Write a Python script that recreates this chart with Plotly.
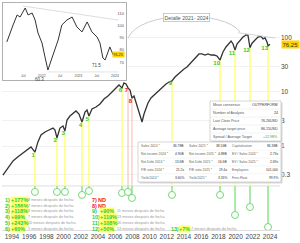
import numpy as np
import plotly.graph_objects as go

# ---------------- data ----------------
dates = [1992.95, 1993.53, 1994.12, 1994.70, 1995.28, 1995.86, 1996.21, 1996.67, 1997.02, 1997.37,
         1997.84, 1998.30, 1998.77, 1999.00, 1999.23, 1999.58, 1999.93, 2000.16, 2000.40, 2000.74,
         2001.09, 2001.44, 2001.79, 2002.14, 2002.49, 2002.72, 2002.95, 2003.30, 2003.77, 2004.23,
         2004.70, 2005.16, 2005.63, 2006.09, 2006.44, 2006.79, 2007.02, 2007.26, 2007.49, 2007.72,
         2007.95, 2008.19, 2008.42, 2008.65, 2008.88, 2009.12, 2009.35, 2009.58, 2009.81, 2010.16,
         2010.51, 2010.86, 2011.21, 2011.56, 2011.91, 2012.26, 2012.60, 2012.95, 2013.30, 2013.65,
         2014.00, 2014.35, 2014.70, 2015.05, 2015.40, 2015.74, 2016.09, 2016.44, 2016.79, 2017.14,
         2017.49, 2017.84, 2018.19, 2018.53, 2018.88, 2019.23, 2019.47, 2019.70, 2019.93, 2020.16,
         2020.51, 2020.86, 2021.21, 2021.44, 2021.67, 2021.91, 2022.26, 2022.60, 2022.95, 2023.19,
         2023.42, 2023.65, 2023.77, 2024.00]
prices = [0.29, 0.39, 0.53, 0.63, 0.74, 0.84, 0.96, 0.77, 1.19, 1.60,
          1.82, 1.98, 2.15, 1.98, 1.41, 2.15, 2.35, 1.90, 3.03, 3.59,
          4.08, 4.45, 3.91, 2.78, 4.26, 4.64, 3.59, 4.84, 5.27, 5.99,
          7.42, 8.43, 10.0, 11.9, 13.5, 11.9, 14.7, 14.1, 11.9, 10.9,
          7.74, 8.43, 6.53, 4.64, 3.59, 2.78, 3.91, 5.05, 6.25, 7.74,
          8.80, 10.0, 10.9, 12.4, 14.1, 15.3, 16.0, 18.9, 21.5, 24.5,
          26.7, 29.0, 33.0, 39.1, 44.5, 50.6, 50.6, 48.4, 50.6, 48.4,
          48.4, 46.4, 39.1, 55.1, 68.1, 80.8, 88.0, 77.4, 59.9, 77.4,
          91.8, 104.0, 114.0, 112.0, 66.0, 80.0, 92.0, 104.0, 107.0, 96.0,
          100.0, 84.3, 71.5, 76.25]
last_price = 76.25

sig_labels = ["1", "2", "3", "4", "5", "6", "7", "8", "9", "10", "11", "12", "13"]
sig_dates = [1996.67, 1999.23, 2000.16, 2002.14, 2002.95, 2006.79, 2007.49, 2007.95,
             2012.60, 2018.19, 2019.93, 2021.67, 2023.77]
sig_prices = [0.77, 1.41, 1.90, 2.78, 3.59, 11.9, 11.9, 7.74, 16.0, 39.1, 59.9, 66.0, 71.5]
sig_ok = [True, True, True, True, True, True, False, False, True, True, True, True, True]
circle_levels = [0.141, 0.141, 0.141, 0.124, 0.147, 0.135, 0.141, 0.109, 0.124, 0.124,
                 0.0527, 0.0742, 0.0316]
gains = ["+177%", "+186%", "+118%", "+99%", "+243%", "+60%", "ND", "ND",
         "+90%", "+119%", "+108%", "+50%", "+7%"]
months = ["8", "7", "8", "7", "20", "5", "", "", "11", "13", "16", "13", "7"]
sep_level = 0.182

year_ticks = list(range(1994, 2025, 2))
price_ticks = [0.3, 1, 3, 10, 30, 100]
price_tick_text = ["0.3", "1", "3", "10", "30", "100"]

trend_dates = [2020.3, 2024.6]
trend_prices = [125.0, 100.0]

inset_dates = [2021.05, 2021.14, 2021.22, 2021.33, 2021.41, 2021.55, 2021.63, 2021.74, 2021.82, 2021.90,
               2022.01, 2022.09, 2022.17, 2022.28, 2022.36, 2022.45, 2022.55, 2022.69, 2022.83, 2022.96,
               2023.10, 2023.24, 2023.37, 2023.51, 2023.59, 2023.67, 2023.73, 2023.81, 2023.86, 2023.95,
               2024.00]
inset_prices = [86.6, 94.8, 100.5, 108.7, 107.0, 114.4, 108.7, 110.3, 104.6, 93.9,
                85.7, 74.3, 63.6, 73.4, 80.0, 88.2, 100.5, 104.6, 107.0, 98.9,
                94.8, 103.0, 94.8, 90.7, 85.7, 73.4, 71.8, 78.4, 82.5, 75.9,
                76.25]
inset_ticks = [70, 80, 90, 100, 110]
inset_xticks = [2021.0, 2021.5, 2022.0, 2022.5, 2023.0, 2023.5, 2024.0]
inset_xtext = ["2021", "Jul", "2022", "Jul", "2023", "Jul", "2024"]
inset_low_dates = [2022.17, 2023.73]
inset_low_values = [60.3, 71.5]
inset_res_dates = [2021.49, 2024.10]
inset_res_prices = [116.0, 104.5]
inset_sup_dates = [2022.15, 2024.10]
inset_sup_prices = [62.0, 62.0]

cons_labels = ["Mean consensus", "Number of Analysts", "Last Close Price",
               "Average target price", "Spread / Average Target"]
cons_values = ["OUTPERFORM", "24", "76.26USD", "86.15USD", "+12.98%"]
fin_l1 = ["Sales 2024 *", "Net income 2024 *", "Net Debt 2024 *", "P/E ratio 2024 *", "Yield 2024 *"]
fin_v1 = ["36.78B", "4.90B", "13.6B", "21.2x", "3.60%"]
fin_l2 = ["Sales 2025 *", "Net income 2025 *", "Net Debt 2025 *", "P/E ratio 2025 *", "Yield 2025 *"]
fin_v2 = ["38.56B", "4.88B", "16.6B", "19.4x", "3.33%"]
fin_l3 = ["Capitalization", "EV / Sales 2024 *", "EV / Sales 2025 *", "Employees", "Free-Float"]
fin_v3 = ["86.38B", "2.73x", "2.69x", "101,000", "99.9%"]

# ---------------- layout helpers ----------------
W, H = 300, 243
ML, MR, MT, MB = 2, 20, 3, 13
PW, PH = W - ML - MR, H - MT - MB
FONT = "Liberation Sans, Arial, sans-serif"
GREEN = "#2ecc2e"
RED = "#ee2222"


def px(x):
    return (x - ML) / PW


def py(y):
    return (H - MB - y) / PH


x_range = [1992.84, 2025.16]
y_range = [-1.5556, 2.648]

fig = go.Figure()

# separator line
fig.add_trace(go.Scatter(x=x_range, y=[sep_level, sep_level], mode="lines",
                         line=dict(color="#d6d6d6", width=0.8), hoverinfo="skip"))

# stems
yx, yy, rx, ry, gx, gy = [], [], [], [], [], []
for d, p, ok, c in zip(sig_dates, sig_prices, sig_ok, circle_levels):
    if ok:
        yx += [d, d, None]
        yy += [p, sep_level, None]
    else:
        rx += [d, d, None]
        ry += [p, sep_level, None]
    gx += [d, d, None]
    gy += [sep_level, c, None]
fig.add_trace(go.Scatter(x=yx, y=yy, mode="lines", line=dict(color="#ffff78", width=1.5)))
fig.add_trace(go.Scatter(x=rx, y=ry, mode="lines", line=dict(color="#f6c6c0", width=1.2)))
fig.add_trace(go.Scatter(x=gx, y=gy, mode="lines", line=dict(color="#8ee48e", width=1.5)))
fig.add_trace(go.Scatter(x=sig_dates, y=circle_levels, mode="markers", cliponaxis=False,
                         marker=dict(symbol="circle", size=7, color="white",
                                     line=dict(color="#74d874", width=1))))

# main price
fig.add_trace(go.Scatter(x=dates, y=prices, mode="lines",
                         line=dict(color="#333333", width=1.3)))
fig.add_trace(go.Scatter(x=trend_dates, y=trend_prices, mode="lines",
                         line=dict(color="#c8c8c8", width=0.8)))

# signal numbers
fig.add_trace(go.Scatter(x=sig_dates, y=sig_prices, mode="text",
                         text=["<b>" + s + "</b>" for s in sig_labels],
                         textposition="bottom left",
                         textfont=dict(family=FONT, size=6,
                                       color=[GREEN if ok else RED for ok in sig_ok])))

# inset
fig.add_trace(go.Scatter(x=inset_res_dates, y=inset_res_prices, mode="lines", xaxis="x2", yaxis="y2",
                         line=dict(color="#cfcfcf", width=0.7)))
fig.add_trace(go.Scatter(x=inset_sup_dates, y=inset_sup_prices, mode="lines", xaxis="x2", yaxis="y2",
                         line=dict(color="#d8d8d8", width=0.7)))
fig.add_trace(go.Scatter(x=inset_dates, y=inset_prices, mode="lines", xaxis="x2", yaxis="y2",
                         line=dict(color="#333333", width=1)))

annotations = []
shapes = []


def ann(xp, yp, text, size=5, color="#333", anchor="left", bg=None, **kw):
    d = dict(x=px(xp), y=py(yp), xref="paper", yref="paper", text=text, showarrow=False,
             xanchor=anchor, yanchor="middle", font=dict(family=FONT, size=size, color=color),
             borderpad=0)
    if bg:
        d["bgcolor"] = bg
    d.update(kw)
    annotations.append(d)


# inset labels
for d, v in zip(inset_low_dates, inset_low_values):
    annotations.append(dict(x=d, y=v, xref="x2", yref="y2", text=f"{v}", showarrow=False,
                            xanchor="right", yanchor="top", xshift=-2, yshift=-1,
                            font=dict(family=FONT, size=4.5, color="#444")))
annotations.append(dict(x=1, y=last_price, xref="x2 domain", yref="y2", text=f"{last_price}",
                        showarrow=False, xanchor="right", xshift=-1,
                        font=dict(family=FONT, size=4, color="#333"), bgcolor="#ffd400",
                        borderpad=0))
# main last price tag
annotations.append(dict(x=1, y=float(np.log10(last_price)), xref="paper", yref="y",
                        text=f"{last_price}", showarrow=False, xanchor="left", xshift=1,
                        font=dict(family=FONT, size=6, color="#333"), bgcolor="#ffd400",
                        borderpad=0.5))

# Detalle arc + label
x0, y0 = px(128), py(38)
x1, y1 = px(140), py(10)
x2, y2 = px(225), py(10)
x3, y3 = px(240), py(32)
shapes.append(dict(type="path", xref="paper", yref="paper",
                   path=f"M {x0},{y0} C {x1},{y1} {x2},{y2} {x3},{y3}",
                   line=dict(color="#b5b5b5", width=0.7)))
ann(186.5, 17.5, "Detalle 2021- 2024", size=5.2, color="#555", anchor="center", bg="white",
    bordercolor="#aaaaaa", borderwidth=0.6)
annotations[-1]["borderpad"] = 1

# consensus box
bx0, bx1, by0 = 210, 281, 101
rh = 8
shapes.append(dict(type="rect", xref="paper", yref="paper", layer="above",
                   x0=px(bx0 + 1.5), x1=px(bx1 + 1.5), y0=py(by0 + 1.5), y1=py(by0 + 5 * rh + 1.5),
                   fillcolor="#d9d9d9", line=dict(width=0)))
shapes.append(dict(type="rect", xref="paper", yref="paper", layer="above",
                   x0=px(bx0), x1=px(bx1), y0=py(by0), y1=py(by0 + 5 * rh),
                   fillcolor="white", line=dict(color="#bdbdbd", width=0.6)))
for i, (lab, val) in enumerate(zip(cons_labels, cons_values)):
    yc = by0 + rh * i + rh / 2
    if i > 0:
        shapes.append(dict(type="line", xref="paper", yref="paper", layer="above",
                           x0=px(bx0 + 1), x1=px(bx1 - 1), y0=py(by0 + rh * i), y1=py(by0 + rh * i),
                           line=dict(color="#e6e6e6", width=0.5)))
    ann(bx0 + 2, yc, lab, size=3.6, color="#555")
    ann(bx1 - 2, yc, val, size=3.6, color=("#22aa22" if i == 4 else "#333"), anchor="right")

# financial box
fx0, fx1, fy0 = 138, 281, 142
fh = 7.8
shapes.append(dict(type="rect", xref="paper", yref="paper", layer="above",
                   x0=px(fx0 + 1.5), x1=px(fx1 + 1.5), y0=py(fy0 + 1.5), y1=py(fy0 + 5 * fh + 2.5),
                   fillcolor="#d9d9d9", line=dict(width=0)))
shapes.append(dict(type="rect", xref="paper", yref="paper", layer="above",
                   x0=px(fx0), x1=px(fx1), y0=py(fy0), y1=py(fy0 + 5 * fh + 1),
                   fillcolor="white", line=dict(color="#bdbdbd", width=0.6)))
cols = [(140, 185, fin_l1, fin_v1), (188, 228, fin_l2, fin_v2), (231, 279, fin_l3, fin_v3)]
for i in range(5):
    yc = fy0 + 0.5 + fh * i + fh / 2
    if i > 0:
        shapes.append(dict(type="line", xref="paper", yref="paper", layer="above",
                           x0=px(fx0 + 1), x1=px(fx1 - 1), y0=py(fy0 + 0.5 + fh * i),
                           y1=py(fy0 + 0.5 + fh * i), line=dict(color="#ececec", width=0.5)))
    for lx, vx, labs, vals in cols:
        ann(lx, yc, labs[i], size=3.3, color="#666")
        ann(vx, yc, vals[i], size=3.3, color="#333", anchor="right")

# bottom signal summary text
row_y = [200, 205.7, 211.4, 217.1, 222.8, 228.5]
for k in range(13):
    if k < 6:
        nx, gxp, tx, ry_ = 4, 9.5, 27, row_y[k]
    elif k < 12:
        nx, gxp, tx, ry_ = 91, 98.5, 116, row_y[k - 6]
    else:
        nx, gxp, tx, ry_ = 170, 178, 190, row_y[5]
    col = GREEN if sig_ok[k] else RED
    ann(nx, ry_, f"<b>{sig_labels[k]})</b>", size=5.5, color=col)
    if sig_ok[k]:
        ann(gxp, ry_, f"<b>{gains[k]}</b>", size=5.5, color=GREEN, bg="#ffff70")
        ann(tx, ry_, f"{months[k]} meses después de fecha", size=3.8, color="#9a9a9a")
    else:
        ann(gxp - 1, ry_, f"<b>{gains[k]}</b>", size=5.5, color=RED)

fig.update_layout(
    width=W, height=H,
    margin=dict(l=ML, r=MR, t=MT, b=MB),
    paper_bgcolor="white", plot_bgcolor="white",
    showlegend=False,
    font=dict(family=FONT, color="#444"),
    xaxis=dict(range=x_range, tickvals=year_ticks, ticktext=[str(y) for y in year_ticks],
               showgrid=False, zeroline=False, showline=True, linecolor="#dddddd", linewidth=0.8,
               ticks="", tickfont=dict(size=6.5, color="#444")),
    yaxis=dict(type="log", range=y_range, side="right", tickvals=price_ticks,
               ticktext=price_tick_text, showgrid=True, gridcolor="#f1f1f1", gridwidth=0.6,
               zeroline=False, showline=False, ticks="", tickfont=dict(size=6.5, color="#444")),
    xaxis2=dict(domain=[px(3), px(126)], anchor="y2", range=[2020.945, 2024.30],
                tickvals=inset_xticks, ticktext=inset_xtext, ticklabelposition="inside",
                tickfont=dict(size=3.5, color="#555"), showgrid=False, zeroline=False,
                showline=True, mirror=True, linecolor="#b0b0b0", linewidth=0.6, ticks=""),
    yaxis2=dict(domain=[py(80), py(3)], anchor="x2", range=[55.4, 118.5], side="right",
                tickvals=inset_ticks, ticklabelposition="inside",
                tickfont=dict(size=4, color="#555"), showgrid=False, zeroline=False,
                showline=True, mirror=True, linecolor="#b0b0b0", linewidth=0.6, ticks=""),
    annotations=annotations,
    shapes=shapes,
)

fig.write_html("out.html")
